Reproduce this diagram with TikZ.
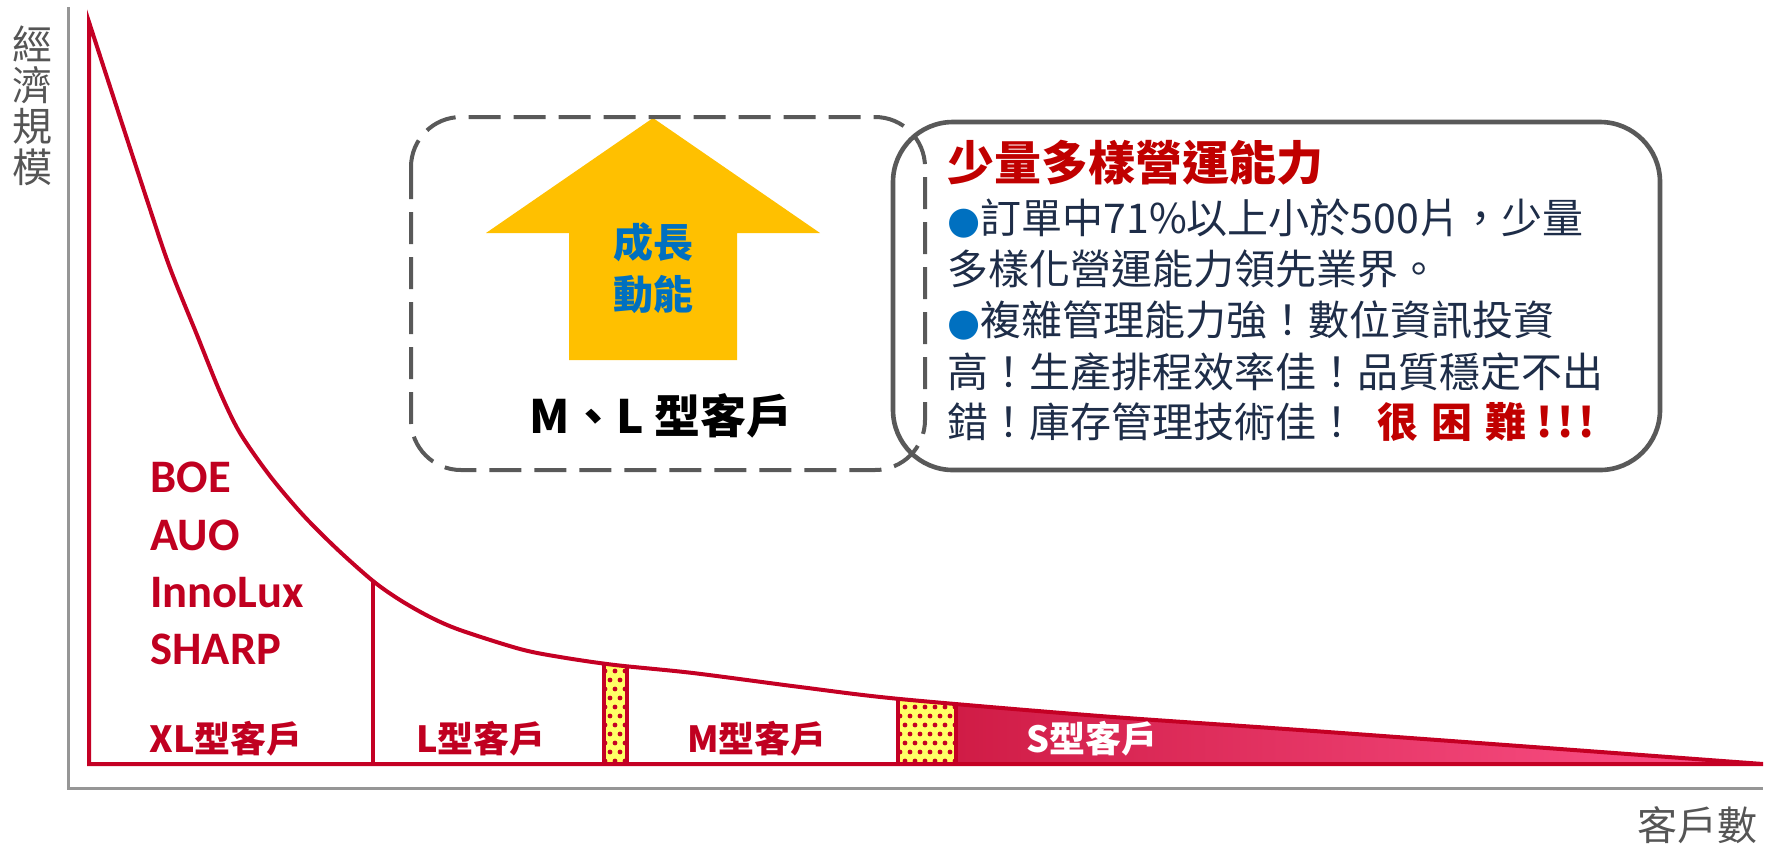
\documentclass[tikz,border=0pt]{standalone}
\usepackage{fontspec}
\setmainfont{Noto Sans CJK TC}
\newfontfamily\cjk{Noto Sans CJK TC}
\newfontfamily\carlito{Carlito}
\newfontfamily\djv{DejaVu Sans}
\definecolor{chartred}{RGB}{196,0,36}
\definecolor{labelred}{RGB}{192,0,32}
\definecolor{titlered}{RGB}{192,0,0}
\definecolor{boxgray}{RGB}{89,89,89}
\definecolor{axisgray}{RGB}{150,150,150}
\definecolor{axistext}{RGB}{85,85,85}
\definecolor{arrowyellow}{RGB}{255,192,0}
\definecolor{growblue}{RGB}{0,112,192}
\definecolor{bodynavy}{RGB}{30,45,72}
\definecolor{patyellow}{RGB}{255,255,102}
\definecolor{sleft}{RGB}{208,28,70}
\definecolor{sright}{RGB}{255,85,140}
\newcommand\clipunder{\clip (89,764) -- plot[smooth,tension=0.5] coordinates {(89,22) (147,200) (170,268) (197,335) (220,392) (240,433) (270,476) (303,515) (337,549) (373,581) (400,600) (430,617) (460,630) (520,649) (560,657) (615,665) (693,673) (800,687) (900,699) (1100,716) (1300,730) (1533,747) (1763,764)} -- cycle;}
\newcommand\drawoutline{\draw[redline,line join=miter] (89,764) -- plot[smooth,tension=0.5] coordinates {(89,22) (147,200) (170,268) (197,335) (220,392) (240,433) (270,476) (303,515) (337,549) (373,581) (400,600) (430,617) (460,630) (520,649) (560,657) (615,665) (693,673) (800,687) (900,699) (1100,716) (1300,730) (1533,747) (1763,764)} -- cycle;}
\begin{document}
\begin{tikzpicture}[x=0.5pt,y=-0.5pt,
  redline/.style={draw=chartred,line width=2pt},
  axisline/.style={draw=axisgray,line width=1.5pt},
  axlbl/.style={font=\cjk\fontsize{20pt}{20.5pt}\selectfont,text=axistext,inner sep=0pt},
  corp/.style={font=\carlito\bfseries\fontsize{23.3pt}{28pt}\selectfont,text=labelred,inner sep=0pt,anchor=base west},
  seg/.style={font=\cjk\bfseries\fontsize{18pt}{20pt}\selectfont,text=labelred,inner sep=0pt,anchor=base},
  growtext/.style={font=\cjk\bfseries\fontsize{20pt}{22pt}\selectfont,text=growblue,inner sep=0pt,anchor=base},
  mltext/.style={font=\cjk\bfseries\fontsize{23pt}{25pt}\selectfont,text=black,inner sep=0pt,anchor=base},
  titletext/.style={font=\cjk\bfseries\fontsize{23.5pt}{26pt}\selectfont,text=titlered,inner sep=0pt,anchor=base west},
  body/.style={font=\cjk\fontsize{20.5pt}{24pt}\selectfont,text=bodynavy,inner sep=0pt,anchor=base west},
  dashbox/.style={draw=boxgray,line width=2pt,dash pattern=on 16pt off 6.5pt,rounded corners=25pt},
  solidbox/.style={draw=boxgray,line width=2.3pt,rounded corners=30pt}]
\useasboundingbox (0,0) rectangle (1773,848);
% axes
\draw[axisline] (68,7) -- (68,788) -- (1763,788);
% S region gradient
\begin{scope}
  \clipunder
  \shade[left color=sleft,right color=sright] (957,600) rectangle (1763,770);
\end{scope}
% patterned bars
\begin{scope}
  \clipunder
  \clip (603,600) rectangle (628,766) (897,600) rectangle (957,766);
  \fill[patyellow] (600,600) rectangle (960,770);
  \foreach \yy in {662,680,...,770}{\foreach \xx in {600,610,...,960}{\fill[chartred] (\xx,\yy) circle (1.2pt);}}
  \foreach \yy in {671,689,...,770}{\foreach \xx in {605,615,...,960}{\fill[chartred] (\xx,\yy) circle (1.2pt);}}
\end{scope}
\begin{scope}
  \clipunder
  \draw[chartred,line width=1.6pt] (604,600) rectangle (627,764);
  \draw[chartred,line width=1.6pt] (898,600) rectangle (956,764);
  \draw[redline] (373,500) -- (373,764);
\end{scope}
% outline
\drawoutline
% axis labels
\node[axlbl,align=center] (ylab) at (32,106) {經\\濟\\規\\模};
\node[axlbl] (xlab) at (1697,825) {客戶數};
% companies
\node[corp] (boe) at (150,492) {BOE};
\node[corp] (auo) at (150,550) {AUO};
\node[corp] (inno) at (150,607) {InnoLux};
\node[corp] (sharp) at (150,664) {SHARP};
% segments
\node[seg] (xl) at (226,752) {XL型客戶};
\node[seg] (lc) at (481,752) {L型客戶};
\node[seg] (mc) at (757,752) {M型客戶};
\node[seg,text=white] (sc) at (1092,752) {S型客戶};
% growth arrow
\fill[arrowyellow] (653,118) -- (820,233) -- (737,233) -- (737,360) -- (569,360) -- (569,233) -- (486,233) -- cycle;
\node[growtext] (g1) at (653,257) {成長};
\node[growtext] (g2) at (653,309) {動能};
\node[mltext] (ml) at (661,433) {M、L 型客戶};
% boxes
\draw[dashbox] (411,117) rectangle (925,470);
\draw[solidbox] (893,122) rectangle (1660,470);
% box text
\node[titletext] (ttl) at (947,180) {少量多樣營運能力};
\node[body] (b1) at (947,233) {{\djv\fontsize{19pt}{20pt}\selectfont\textcolor{growblue}{●}}訂單中71\%以上小於500片，少量};
\node[body] (b2) at (947,284) {多樣化營運能力領先業界。};
\node[body] (b3) at (947,335) {{\djv\fontsize{19pt}{20pt}\selectfont\textcolor{growblue}{●}}複雜管理能力強！數位資訊投資};
\node[body] (b4) at (947,387) {高！生產排程效率佳！品質穩定不出};
\node[body] (b5) at (947,437) {錯！庫存管理技術佳！\hspace{10pt}{\bfseries\color{titlered}很\hspace{6.5pt}困\hspace{6.5pt}難\hspace{5pt}!\hspace{2.5pt}!\hspace{2.5pt}!}};
\end{tikzpicture}
\end{document}
